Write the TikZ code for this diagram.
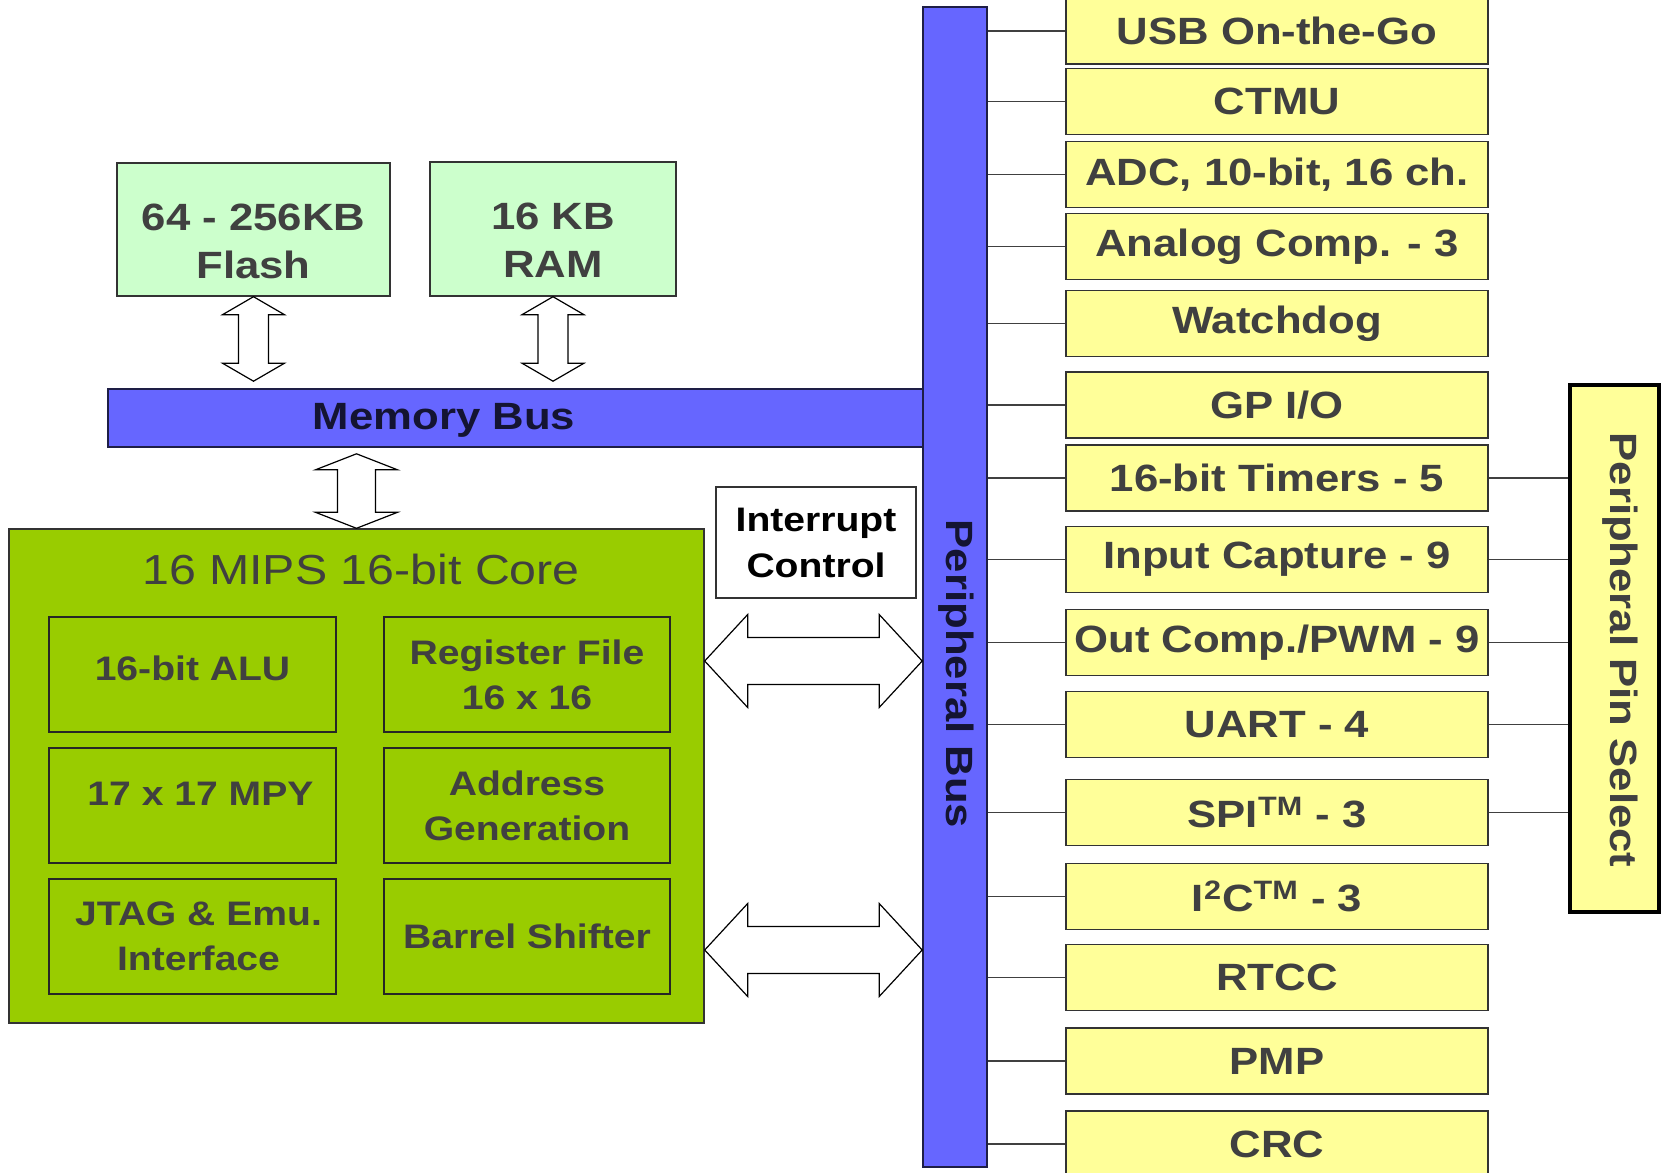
\documentclass[tikz,border=0pt]{standalone}
\usepackage{fontspec}
\setmainfont{Liberation Sans}[FakeStretch=1.15]
\usepackage{tikz}
\usetikzlibrary{calc}

\definecolor{busblue}{RGB}{102,102,255}
\definecolor{busline}{RGB}{30,30,70}
\definecolor{bustext}{RGB}{20,20,50}
\definecolor{memgreen}{RGB}{204,255,204}
\definecolor{coregreen}{RGB}{153,204,0}
\definecolor{periyellow}{RGB}{255,255,153}
\definecolor{textgray}{RGB}{64,64,64}

% hollow double arrows: tip, tip, half head, half shaft, head length
\newcommand{\vblock}[5]{%
  \draw[blockarrow] (#1) -- ($(#1)+(#3,#5)$) -- ($(#1)+(#4,#5)$)
    -- ($(#2)+(#4,-#5)$) -- ($(#2)+(#3,-#5)$) -- (#2)
    -- ($(#2)+(-#3,-#5)$) -- ($(#2)+(-#4,-#5)$)
    -- ($(#1)+(-#4,#5)$) -- ($(#1)+(-#3,#5)$) -- cycle;}
\newcommand{\hblock}[5]{%
  \draw[blockarrow] (#1) -- ($(#1)+(#5,-#3)$) -- ($(#1)+(#5,-#4)$)
    -- ($(#2)+(-#5,-#4)$) -- ($(#2)+(-#5,-#3)$) -- (#2)
    -- ($(#2)+(-#5,#3)$) -- ($(#2)+(-#5,#4)$)
    -- ($(#1)+(#5,#4)$) -- ($(#1)+(#5,#3)$) -- cycle;}

\begin{document}
\begin{tikzpicture}[
    x=0.5pt, y=-0.5pt,
    bus/.style={rectangle, draw=busline, fill=busblue, line width=0.8pt},
    busfont/.style={font=\fontsize{19}{22}\selectfont\bfseries, text=bustext},
    memblock/.style={rectangle, draw=black!80, fill=memgreen, line width=0.7pt, align=center, font=\fontsize{19}{24}\selectfont\bfseries, text=textgray},
    unit/.style={rectangle, draw=black!85, fill=coregreen, line width=0.7pt, minimum height=57.5pt, align=center, font=\fontsize{17}{22.5}\selectfont\bfseries, text=textgray},
    periph/.style={rectangle, draw=black!80, fill=periyellow, line width=0.8pt, minimum width=211pt, minimum height=33pt, font=\fontsize{19}{22}\selectfont\bfseries, text=textgray},
    tap/.style={draw=black!75, line width=0.8pt},
    blockarrow/.style={draw=black, fill=white, line width=0.6pt, line join=miter}
]
    \useasboundingbox (0,0) rectangle (1662,1173);

    % Flash and RAM (text sits low in the box)
    \node[memblock, minimum width=136.5pt, minimum height=66.5pt] (flash) at (253.5,229.5) {\rule{0pt}{25pt}64 - 256KB\\Flash};
    \node[memblock, minimum width=123pt, minimum height=67pt] (ram) at (553,229) {\rule{0pt}{24pt}16 KB\\RAM};

    % Memory bus, runs into the peripheral bus
    \node[bus, minimum width=407.5pt, minimum height=29pt] (membus) at (515.5,418) {};
    \node[busfont] (membustxt) at (444,420) {Memory Bus};

    % Peripheral bus (vertical)
    \node[bus, minimum width=32pt, minimum height=580pt] (pbus) at (955,587) {};
    \node[busfont, rotate=-90] (pbustxt) at (956,674) {Peripheral Bus};

    % CPU core with its units
    \node[rectangle, draw=black!80, fill=coregreen, line width=0.7pt, minimum width=347.5pt, minimum height=247pt] (core) at (356.5,776) {};
    \node[font=\fontsize{21}{24}\selectfont, text=textgray] (coretitle) at (361,569) {16 MIPS 16-bit Core};

    \node[unit, minimum width=143.5pt] (alu) at (192.5,674.5) {16-bit ALU\rule[-6pt]{0pt}{6pt}};
    \node[unit, minimum width=143pt] (regfile) at (527,674.5) {Register File\\16 x 16};
    \node[unit, minimum width=143.5pt] (mpy) at (192.5,805.5) {\hspace{8pt}17 x 17 MPY\rule[-12pt]{0pt}{12pt}};
    \node[unit, minimum width=143pt] (agu) at (527,805.5) {Address\\Generation};
    \node[unit, minimum width=143.5pt] (jtag) at (192.5,936.5) {\hspace{6pt}JTAG \& Emu.\\\hspace{6pt}Interface};
    \node[unit, minimum width=143pt] (shifter) at (527,936.5) {Barrel Shifter};

    % Interrupt controller
    \node[rectangle, draw=black!80, fill=white, line width=0.6pt, minimum width=100pt, minimum height=55.5pt, align=center, font=\fontsize{17}{23}\selectfont\bfseries] (intc) at (816,542.5) {Interrupt\\Control};

    % Peripherals on the bus
    \foreach \n/\t/\y in {usb/{USB On-the-Go}/31, ctmu/CTMU/101.5, adc/{ADC, 10-bit, 16 ch.}/174.5,
        acomp/{Analog Comp. - 3}/246.5, wdt/Watchdog/323.5, gpio/{GP I/O}/405,
        tmr/{16-bit Timers - 5}/478, ic/{Input Capture - 9}/559.5, oc/{Out Comp./PWM - 9}/642.5,
        uart/{UART - 4}/724.5, spi/{SPI\textsuperscript{TM} - 3}/812.5,
        iic/{I\textsuperscript{2}C\textsuperscript{TM} - 3}/896.5, rtcc/RTCC/977.5, pmp/PMP/1061, crc/CRC/1144} {
        \node[periph] (\n) at (1277,\y) {\t};
        \draw[tap] (\n.west) -- (\n.west -| pbus.east);
    }

    % Peripheral pin select
    \node[rectangle, draw=black, fill=periyellow, line width=2pt, minimum width=44.5pt, minimum height=263.5pt] (pps) at (1614.5,648.5) {};
    \node[font=\fontsize{19}{22}\selectfont\bfseries, text=textgray, rotate=-90] (ppstxt) at (1620,650) {Peripheral Pin Select};
    \foreach \n in {tmr,ic,oc,uart,spi}
        \draw[tap] (\n.east) -- (\n.east -| pps.west);

    % Memory <-> bus arrows
    \coordinate (fT) at (flash.south);
    \coordinate (fB) at ($(flash.south |- membus.north)+(0,-7)$);
    \vblock{fT}{fB}{31}{15}{18}
    \coordinate (rT) at (ram.south);
    \coordinate (rB) at ($(ram.south |- membus.north)+(0,-7)$);
    \vblock{rT}{rB}{31}{15}{18}
    \coordinate (cT) at ($(core.north |- membus.south)+(0,6)$);
    \coordinate (cB) at (core.north);
    \vblock{cT}{cB}{41}{19}{16}

    % Core <-> peripheral bus arrows
    \coordinate (lvlA) at (0,661);
    \coordinate (lvlB) at (0,950);
    \coordinate (aL) at (core.east |- lvlA);
    \coordinate (aR) at (pbus.west |- lvlA);
    \hblock{aL}{aR}{46.5}{23.5}{43}
    \coordinate (bL) at (core.east |- lvlB);
    \coordinate (bR) at (pbus.west |- lvlB);
    \hblock{bL}{bR}{46.5}{23.5}{43}

\end{tikzpicture}
\end{document}
